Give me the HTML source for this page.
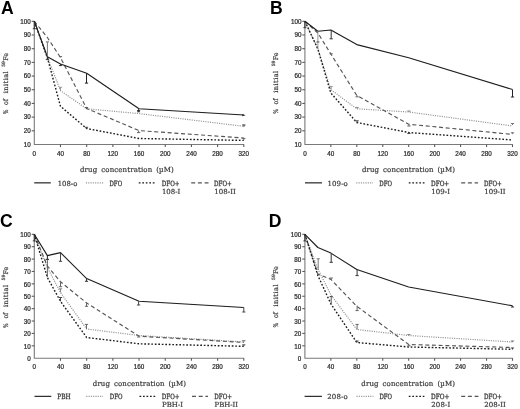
<!DOCTYPE html>
<html lang="en">
<head>
<meta charset="utf-8">
<title>Figure</title>
<style>
html,body{margin:0;padding:0;background:#fff;}
body{width:520px;height:409px;overflow:hidden;}
svg{display:block;}
</style>
</head>
<body>
<svg width="520" height="409" viewBox="0 0 520 409">
<defs><filter id="soft" x="0" y="0" width="100%" height="100%" filterUnits="userSpaceOnUse"><feGaussianBlur stdDeviation="0.35"/></filter></defs>
<rect width="520" height="409" fill="#ffffff"/>
<g filter="url(#soft)">
<text x="1.00" y="14.10" font-family="Liberation Sans, sans-serif" font-size="17.6" font-weight="bold" fill="#000">A</text>
<path d="M34.30 21.00 V144.50 H244.10" fill="none" stroke="#7a7a7a" stroke-width="1.1"/>
<text x="30.80" y="146.80" font-family="Liberation Sans, sans-serif" font-size="6.3" text-anchor="end" fill="#2a2a2a" stroke="#2a2a2a" stroke-width="0.22">10</text>
<path d="M31.70 130.81 h2.6" stroke="#5a5a5a" stroke-width="1.1"/>
<text x="30.80" y="133.11" font-family="Liberation Sans, sans-serif" font-size="6.3" text-anchor="end" fill="#2a2a2a" stroke="#2a2a2a" stroke-width="0.22">20</text>
<path d="M31.70 117.12 h2.6" stroke="#5a5a5a" stroke-width="1.1"/>
<text x="30.80" y="119.42" font-family="Liberation Sans, sans-serif" font-size="6.3" text-anchor="end" fill="#2a2a2a" stroke="#2a2a2a" stroke-width="0.22">30</text>
<path d="M31.70 103.43 h2.6" stroke="#5a5a5a" stroke-width="1.1"/>
<text x="30.80" y="105.73" font-family="Liberation Sans, sans-serif" font-size="6.3" text-anchor="end" fill="#2a2a2a" stroke="#2a2a2a" stroke-width="0.22">40</text>
<path d="M31.70 89.74 h2.6" stroke="#5a5a5a" stroke-width="1.1"/>
<text x="30.80" y="92.04" font-family="Liberation Sans, sans-serif" font-size="6.3" text-anchor="end" fill="#2a2a2a" stroke="#2a2a2a" stroke-width="0.22">50</text>
<path d="M31.70 76.06 h2.6" stroke="#5a5a5a" stroke-width="1.1"/>
<text x="30.80" y="78.36" font-family="Liberation Sans, sans-serif" font-size="6.3" text-anchor="end" fill="#2a2a2a" stroke="#2a2a2a" stroke-width="0.22">60</text>
<path d="M31.70 62.37 h2.6" stroke="#5a5a5a" stroke-width="1.1"/>
<text x="30.80" y="64.67" font-family="Liberation Sans, sans-serif" font-size="6.3" text-anchor="end" fill="#2a2a2a" stroke="#2a2a2a" stroke-width="0.22">70</text>
<path d="M31.70 48.68 h2.6" stroke="#5a5a5a" stroke-width="1.1"/>
<text x="30.80" y="50.98" font-family="Liberation Sans, sans-serif" font-size="6.3" text-anchor="end" fill="#2a2a2a" stroke="#2a2a2a" stroke-width="0.22">80</text>
<path d="M31.70 34.99 h2.6" stroke="#5a5a5a" stroke-width="1.1"/>
<text x="30.80" y="37.29" font-family="Liberation Sans, sans-serif" font-size="6.3" text-anchor="end" fill="#2a2a2a" stroke="#2a2a2a" stroke-width="0.22">90</text>
<path d="M31.70 21.30 h2.6" stroke="#5a5a5a" stroke-width="1.1"/>
<text x="30.80" y="23.60" font-family="Liberation Sans, sans-serif" font-size="6.3" text-anchor="end" fill="#2a2a2a" stroke="#2a2a2a" stroke-width="0.22">100</text>
<text x="34.30" y="155.50" font-family="Liberation Sans, sans-serif" font-size="6.3" text-anchor="middle" fill="#2a2a2a" stroke="#2a2a2a" stroke-width="0.22">0</text>
<path d="M60.49 144.50 v2.6" stroke="#5a5a5a" stroke-width="1.1"/>
<text x="60.49" y="155.50" font-family="Liberation Sans, sans-serif" font-size="6.3" text-anchor="middle" fill="#2a2a2a" stroke="#2a2a2a" stroke-width="0.22">40</text>
<path d="M86.67 144.50 v2.6" stroke="#5a5a5a" stroke-width="1.1"/>
<text x="86.67" y="155.50" font-family="Liberation Sans, sans-serif" font-size="6.3" text-anchor="middle" fill="#2a2a2a" stroke="#2a2a2a" stroke-width="0.22">80</text>
<path d="M112.86 144.50 v2.6" stroke="#5a5a5a" stroke-width="1.1"/>
<text x="112.86" y="155.50" font-family="Liberation Sans, sans-serif" font-size="6.3" text-anchor="middle" fill="#2a2a2a" stroke="#2a2a2a" stroke-width="0.22">120</text>
<path d="M139.05 144.50 v2.6" stroke="#5a5a5a" stroke-width="1.1"/>
<text x="139.05" y="155.50" font-family="Liberation Sans, sans-serif" font-size="6.3" text-anchor="middle" fill="#2a2a2a" stroke="#2a2a2a" stroke-width="0.22">160</text>
<path d="M165.24 144.50 v2.6" stroke="#5a5a5a" stroke-width="1.1"/>
<text x="165.24" y="155.50" font-family="Liberation Sans, sans-serif" font-size="6.3" text-anchor="middle" fill="#2a2a2a" stroke="#2a2a2a" stroke-width="0.22">200</text>
<path d="M191.43 144.50 v2.6" stroke="#5a5a5a" stroke-width="1.1"/>
<text x="191.43" y="155.50" font-family="Liberation Sans, sans-serif" font-size="6.3" text-anchor="middle" fill="#2a2a2a" stroke="#2a2a2a" stroke-width="0.22">240</text>
<path d="M217.61 144.50 v2.6" stroke="#5a5a5a" stroke-width="1.1"/>
<text x="217.61" y="155.50" font-family="Liberation Sans, sans-serif" font-size="6.3" text-anchor="middle" fill="#2a2a2a" stroke="#2a2a2a" stroke-width="0.22">280</text>
<path d="M243.80 144.50 v2.6" stroke="#5a5a5a" stroke-width="1.1"/>
<text x="243.80" y="155.50" font-family="Liberation Sans, sans-serif" font-size="6.3" text-anchor="middle" fill="#2a2a2a" stroke="#2a2a2a" stroke-width="0.22">320</text>
<g transform="translate(7.90 114.80) rotate(-90)" font-family="DejaVu Serif, Liberation Serif, serif" stroke="#4c4c4c" stroke-width="0.22" paint-order="stroke" fill="#3a3a3a"><text x="0.5" y="0" font-size="6.6" textLength="4.6" lengthAdjust="spacingAndGlyphs">%</text><text x="9.9" y="0" font-size="6.6" textLength="6.0" lengthAdjust="spacingAndGlyphs">of</text><text x="21.5" y="0" font-size="6.6" textLength="22.0" lengthAdjust="spacing">initial</text><text x="48.0" y="-2.9" font-size="4.4" textLength="5.8" lengthAdjust="spacingAndGlyphs">59</text><text x="54.0" y="0" font-size="6.6" textLength="7.8" lengthAdjust="spacingAndGlyphs">Fe</text></g>
<text x="80.00" y="171.90" font-family="DejaVu Serif, Liberation Serif, serif" stroke="#4c4c4c" stroke-width="0.22" paint-order="stroke" font-size="7.0" textLength="93.80" lengthAdjust="spacing" word-spacing="1.6" fill="#3a3a3a">drug concentration (µM)</text>
<polyline points="34.30,21.30 47.39,57.00 60.49,90.60 86.67,108.80 139.05,113.60 243.80,126.30" fill="none" stroke="#939393" stroke-width="1.2" stroke-linejoin="round" stroke-linecap="butt" stroke-dasharray="1.1 1.2"/>
<polyline points="34.30,21.30 47.39,37.50 60.49,57.50 86.67,108.50 139.05,130.60 243.80,138.00" fill="none" stroke="#555555" stroke-width="1.15" stroke-linejoin="round" stroke-linecap="butt" stroke-dasharray="4 2.7"/>
<polyline points="34.30,21.30 47.39,57.80 60.49,106.30 86.67,128.50 139.05,138.50 243.80,140.40" fill="none" stroke="#1c1c1c" stroke-width="1.4" stroke-linejoin="round" stroke-linecap="butt" stroke-dasharray="1.7 1.8"/>
<polyline points="34.30,21.30 47.39,56.70 60.49,63.90 86.67,73.20 139.05,108.80 243.80,115.00" fill="none" stroke="#1c1c1c" stroke-width="1.1" stroke-linejoin="round" stroke-linecap="butt"/>
<path d="M47.40 56.30 V41.90 M45.80 41.90 h3.2" fill="none" stroke="#777" stroke-width="1.0"/>
<path d="M47.40 57.00 V59.60 M45.80 59.60 h3.2" fill="none" stroke="#333" stroke-width="1.0"/>
<path d="M60.50 64.00 V65.60 M58.90 65.60 h3.2" fill="none" stroke="#333" stroke-width="1.0"/>
<path d="M60.50 90.00 V87.30 M58.90 87.30 h3.2" fill="none" stroke="#999" stroke-width="1.0"/>
<path d="M60.50 57.50 V56.60 M58.90 56.60 h3.2" fill="none" stroke="#666" stroke-width="1.0"/>
<path d="M86.50 73.30 V83.10 M84.90 83.10 h3.2" fill="none" stroke="#222" stroke-width="1.0"/>
<path d="M86.50 108.80 V107.60 M84.90 107.60 h3.2" fill="none" stroke="#555" stroke-width="1.0"/>
<path d="M86.50 128.50 V127.30 M84.90 127.30 h3.2" fill="none" stroke="#444" stroke-width="1.0"/>
<path d="M138.60 108.80 V110.60 M137.00 110.60 h3.2" fill="none" stroke="#333" stroke-width="1.0"/>
<path d="M138.60 130.60 V132.60 M137.00 132.60 h3.2" fill="none" stroke="#666" stroke-width="1.0"/>
<path d="M243.80 126.00 V124.80 M242.20 124.80 h3.2" fill="none" stroke="#777" stroke-width="1.0"/>
<path d="M243.80 140.00 V138.40 M242.20 138.40 h3.2" fill="none" stroke="#666" stroke-width="1.0"/>
<path d="M242.30 114.00 l3.2 1.3 l-3.2 0.9 z" fill="#222"/>
<path d="M242.20 124.80 h3.4 l-1.7 2.4 z" fill="#6a6a6a"/>
<path d="M136.90 112.20 h3.4 l-1.7 -2.4 z" fill="#333"/>
<path d="M34.30 21.30 V28.70 M32.80 28.70 h3.0" fill="none" stroke="#333" stroke-width="1.0"/>
<path d="M34.20 182.85 H50.80" stroke="#1c1c1c" stroke-width="1.15"/>
<text x="57.70" y="185.70" font-family="DejaVu Serif, Liberation Serif, serif" stroke="#4c4c4c" stroke-width="0.22" paint-order="stroke" font-size="7.0" textLength="19.60" lengthAdjust="spacingAndGlyphs" fill="#3a3a3a">108-o</text>
<path d="M85.90 182.85 H103.40" stroke="#939393" stroke-width="1.2" stroke-dasharray="1.1 1.2"/>
<text x="109.50" y="185.70" font-family="DejaVu Serif Condensed, DejaVu Serif, Liberation Serif, serif" font-size="7.2" stroke="#4c4c4c" stroke-width="0.3" paint-order="stroke" textLength="12.60" lengthAdjust="spacingAndGlyphs" fill="#3a3a3a">DFO</text>
<path d="M138.80 182.85 H155.00" stroke="#1c1c1c" stroke-width="1.4" stroke-dasharray="1.7 1.8"/>
<text x="161.70" y="185.70" font-family="DejaVu Serif Condensed, DejaVu Serif, Liberation Serif, serif" font-size="7.2" stroke="#4c4c4c" stroke-width="0.3" paint-order="stroke" textLength="17.90" lengthAdjust="spacingAndGlyphs" fill="#3a3a3a">DFO+</text>
<text x="161.90" y="193.70" font-family="DejaVu Serif, Liberation Serif, serif" stroke="#4c4c4c" stroke-width="0.22" paint-order="stroke" font-size="7.0" textLength="18.40" lengthAdjust="spacingAndGlyphs" fill="#3a3a3a">108-I</text>
<path d="M191.20 182.85 H208.50" stroke="#555555" stroke-width="1.15" stroke-dasharray="4 2.7"/>
<text x="214.10" y="185.70" font-family="DejaVu Serif Condensed, DejaVu Serif, Liberation Serif, serif" font-size="7.2" stroke="#4c4c4c" stroke-width="0.3" paint-order="stroke" textLength="17.70" lengthAdjust="spacingAndGlyphs" fill="#3a3a3a">DFO+</text>
<text x="214.30" y="193.70" font-family="DejaVu Serif, Liberation Serif, serif" stroke="#4c4c4c" stroke-width="0.22" paint-order="stroke" font-size="7.0" textLength="21.50" lengthAdjust="spacing" fill="#3a3a3a">108-II</text>
<text x="270.00" y="14.10" font-family="Liberation Sans, sans-serif" font-size="17.6" font-weight="bold" fill="#000">B</text>
<path d="M304.90 21.00 V144.50 H512.80" fill="none" stroke="#7a7a7a" stroke-width="1.1"/>
<text x="301.40" y="146.80" font-family="Liberation Sans, sans-serif" font-size="6.3" text-anchor="end" fill="#2a2a2a" stroke="#2a2a2a" stroke-width="0.22">10</text>
<path d="M302.30 130.81 h2.6" stroke="#5a5a5a" stroke-width="1.1"/>
<text x="301.40" y="133.11" font-family="Liberation Sans, sans-serif" font-size="6.3" text-anchor="end" fill="#2a2a2a" stroke="#2a2a2a" stroke-width="0.22">20</text>
<path d="M302.30 117.12 h2.6" stroke="#5a5a5a" stroke-width="1.1"/>
<text x="301.40" y="119.42" font-family="Liberation Sans, sans-serif" font-size="6.3" text-anchor="end" fill="#2a2a2a" stroke="#2a2a2a" stroke-width="0.22">30</text>
<path d="M302.30 103.43 h2.6" stroke="#5a5a5a" stroke-width="1.1"/>
<text x="301.40" y="105.73" font-family="Liberation Sans, sans-serif" font-size="6.3" text-anchor="end" fill="#2a2a2a" stroke="#2a2a2a" stroke-width="0.22">40</text>
<path d="M302.30 89.74 h2.6" stroke="#5a5a5a" stroke-width="1.1"/>
<text x="301.40" y="92.04" font-family="Liberation Sans, sans-serif" font-size="6.3" text-anchor="end" fill="#2a2a2a" stroke="#2a2a2a" stroke-width="0.22">50</text>
<path d="M302.30 76.06 h2.6" stroke="#5a5a5a" stroke-width="1.1"/>
<text x="301.40" y="78.36" font-family="Liberation Sans, sans-serif" font-size="6.3" text-anchor="end" fill="#2a2a2a" stroke="#2a2a2a" stroke-width="0.22">60</text>
<path d="M302.30 62.37 h2.6" stroke="#5a5a5a" stroke-width="1.1"/>
<text x="301.40" y="64.67" font-family="Liberation Sans, sans-serif" font-size="6.3" text-anchor="end" fill="#2a2a2a" stroke="#2a2a2a" stroke-width="0.22">70</text>
<path d="M302.30 48.68 h2.6" stroke="#5a5a5a" stroke-width="1.1"/>
<text x="301.40" y="50.98" font-family="Liberation Sans, sans-serif" font-size="6.3" text-anchor="end" fill="#2a2a2a" stroke="#2a2a2a" stroke-width="0.22">80</text>
<path d="M302.30 34.99 h2.6" stroke="#5a5a5a" stroke-width="1.1"/>
<text x="301.40" y="37.29" font-family="Liberation Sans, sans-serif" font-size="6.3" text-anchor="end" fill="#2a2a2a" stroke="#2a2a2a" stroke-width="0.22">90</text>
<path d="M302.30 21.30 h2.6" stroke="#5a5a5a" stroke-width="1.1"/>
<text x="301.40" y="23.60" font-family="Liberation Sans, sans-serif" font-size="6.3" text-anchor="end" fill="#2a2a2a" stroke="#2a2a2a" stroke-width="0.22">100</text>
<text x="304.90" y="155.50" font-family="Liberation Sans, sans-serif" font-size="6.3" text-anchor="middle" fill="#2a2a2a" stroke="#2a2a2a" stroke-width="0.22">0</text>
<path d="M330.85 144.50 v2.6" stroke="#5a5a5a" stroke-width="1.1"/>
<text x="330.85" y="155.50" font-family="Liberation Sans, sans-serif" font-size="6.3" text-anchor="middle" fill="#2a2a2a" stroke="#2a2a2a" stroke-width="0.22">40</text>
<path d="M356.80 144.50 v2.6" stroke="#5a5a5a" stroke-width="1.1"/>
<text x="356.80" y="155.50" font-family="Liberation Sans, sans-serif" font-size="6.3" text-anchor="middle" fill="#2a2a2a" stroke="#2a2a2a" stroke-width="0.22">80</text>
<path d="M382.75 144.50 v2.6" stroke="#5a5a5a" stroke-width="1.1"/>
<text x="382.75" y="155.50" font-family="Liberation Sans, sans-serif" font-size="6.3" text-anchor="middle" fill="#2a2a2a" stroke="#2a2a2a" stroke-width="0.22">120</text>
<path d="M408.70 144.50 v2.6" stroke="#5a5a5a" stroke-width="1.1"/>
<text x="408.70" y="155.50" font-family="Liberation Sans, sans-serif" font-size="6.3" text-anchor="middle" fill="#2a2a2a" stroke="#2a2a2a" stroke-width="0.22">160</text>
<path d="M434.65 144.50 v2.6" stroke="#5a5a5a" stroke-width="1.1"/>
<text x="434.65" y="155.50" font-family="Liberation Sans, sans-serif" font-size="6.3" text-anchor="middle" fill="#2a2a2a" stroke="#2a2a2a" stroke-width="0.22">200</text>
<path d="M460.60 144.50 v2.6" stroke="#5a5a5a" stroke-width="1.1"/>
<text x="460.60" y="155.50" font-family="Liberation Sans, sans-serif" font-size="6.3" text-anchor="middle" fill="#2a2a2a" stroke="#2a2a2a" stroke-width="0.22">240</text>
<path d="M486.55 144.50 v2.6" stroke="#5a5a5a" stroke-width="1.1"/>
<text x="486.55" y="155.50" font-family="Liberation Sans, sans-serif" font-size="6.3" text-anchor="middle" fill="#2a2a2a" stroke="#2a2a2a" stroke-width="0.22">280</text>
<path d="M512.50 144.50 v2.6" stroke="#5a5a5a" stroke-width="1.1"/>
<text x="512.50" y="155.50" font-family="Liberation Sans, sans-serif" font-size="6.3" text-anchor="middle" fill="#2a2a2a" stroke="#2a2a2a" stroke-width="0.22">320</text>
<g transform="translate(278.10 114.30) rotate(-90)" font-family="DejaVu Serif, Liberation Serif, serif" stroke="#4c4c4c" stroke-width="0.22" paint-order="stroke" fill="#3a3a3a"><text x="0.5" y="0" font-size="6.6" textLength="4.6" lengthAdjust="spacingAndGlyphs">%</text><text x="9.9" y="0" font-size="6.6" textLength="6.0" lengthAdjust="spacingAndGlyphs">of</text><text x="21.5" y="0" font-size="6.6" textLength="22.0" lengthAdjust="spacing">initial</text><text x="48.0" y="-2.9" font-size="4.4" textLength="5.8" lengthAdjust="spacingAndGlyphs">59</text><text x="54.0" y="0" font-size="6.6" textLength="7.8" lengthAdjust="spacingAndGlyphs">Fe</text></g>
<text x="362.00" y="171.90" font-family="DejaVu Serif, Liberation Serif, serif" stroke="#4c4c4c" stroke-width="0.22" paint-order="stroke" font-size="7.0" textLength="93.00" lengthAdjust="spacing" word-spacing="1.6" fill="#3a3a3a">drug concentration (µM)</text>
<polyline points="304.90,21.30 317.88,48.60 330.85,89.70 356.80,108.80 408.70,112.00 512.50,126.00" fill="none" stroke="#939393" stroke-width="1.2" stroke-linejoin="round" stroke-linecap="butt" stroke-dasharray="1.1 1.2"/>
<polyline points="304.90,21.30 317.88,33.00 330.85,54.00 356.80,95.50 408.70,124.20 512.50,134.40" fill="none" stroke="#555555" stroke-width="1.15" stroke-linejoin="round" stroke-linecap="butt" stroke-dasharray="4 2.7"/>
<polyline points="304.90,21.30 317.88,49.00 330.85,93.00 356.80,122.50 408.70,132.50 512.50,140.00" fill="none" stroke="#1c1c1c" stroke-width="1.4" stroke-linejoin="round" stroke-linecap="butt" stroke-dasharray="1.7 1.8"/>
<polyline points="304.90,21.30 317.88,31.30 330.85,30.00 356.80,44.60 408.70,57.80 512.50,89.50" fill="none" stroke="#1c1c1c" stroke-width="1.1" stroke-linejoin="round" stroke-linecap="butt"/>
<path d="M317.90 31.30 V48.50" fill="none" stroke="#8a8a8a" stroke-width="0.9"/>
<path d="M317.90 41.00 V42.00 M316.30 42.00 h3.2" fill="none" stroke="#666" stroke-width="1.0"/>
<path d="M331.20 30.00 V38.80 M329.60 38.80 h3.2" fill="none" stroke="#333" stroke-width="1.0"/>
<path d="M331.20 55.00 V53.80 M329.60 53.80 h3.2" fill="none" stroke="#666" stroke-width="1.0"/>
<path d="M331.20 89.70 V86.50 M329.60 86.50 h3.2" fill="none" stroke="#999" stroke-width="1.0"/>
<path d="M357.10 95.50 V96.80 M355.50 96.80 h3.2" fill="none" stroke="#666" stroke-width="1.0"/>
<path d="M357.10 108.80 V107.40 M355.50 107.40 h3.2" fill="none" stroke="#888" stroke-width="1.0"/>
<path d="M357.10 122.50 V120.80 M355.50 120.80 h3.2" fill="none" stroke="#444" stroke-width="1.0"/>
<path d="M408.90 112.00 V111.00 M407.30 111.00 h3.2" fill="none" stroke="#888" stroke-width="1.0"/>
<path d="M408.90 124.50 V126.00 M407.30 126.00 h3.2" fill="none" stroke="#666" stroke-width="1.0"/>
<path d="M408.90 132.50 V133.50 M407.30 133.50 h3.2" fill="none" stroke="#444" stroke-width="1.0"/>
<path d="M512.50 89.50 V97.00 M510.90 97.00 h3.2" fill="none" stroke="#222" stroke-width="1.0"/>
<path d="M512.50 125.00 V123.50 M510.90 123.50 h3.2" fill="none" stroke="#777" stroke-width="1.0"/>
<path d="M512.50 133.80 V132.80 M510.90 132.80 h3.2" fill="none" stroke="#666" stroke-width="1.0"/>
<path d="M304.90 21.30 V27.70 M303.40 27.70 h3.0" fill="none" stroke="#333" stroke-width="1.0"/>
<path d="M305.00 182.85 H322.00" stroke="#1c1c1c" stroke-width="1.15"/>
<text x="327.50" y="185.70" font-family="DejaVu Serif, Liberation Serif, serif" stroke="#4c4c4c" stroke-width="0.22" paint-order="stroke" font-size="7.0" textLength="20.30" lengthAdjust="spacing" fill="#3a3a3a">109-o</text>
<path d="M356.30 182.85 H373.00" stroke="#939393" stroke-width="1.2" stroke-dasharray="1.1 1.2"/>
<text x="379.30" y="185.70" font-family="DejaVu Serif Condensed, DejaVu Serif, Liberation Serif, serif" font-size="7.2" stroke="#4c4c4c" stroke-width="0.3" paint-order="stroke" textLength="12.70" lengthAdjust="spacingAndGlyphs" fill="#3a3a3a">DFO</text>
<path d="M408.80 182.85 H424.60" stroke="#1c1c1c" stroke-width="1.4" stroke-dasharray="1.7 1.8"/>
<text x="431.00" y="185.70" font-family="DejaVu Serif Condensed, DejaVu Serif, Liberation Serif, serif" font-size="7.2" stroke="#4c4c4c" stroke-width="0.3" paint-order="stroke" textLength="18.20" lengthAdjust="spacingAndGlyphs" fill="#3a3a3a">DFO+</text>
<text x="431.20" y="193.70" font-family="DejaVu Serif, Liberation Serif, serif" stroke="#4c4c4c" stroke-width="0.22" paint-order="stroke" font-size="7.0" textLength="18.80" lengthAdjust="spacing" fill="#3a3a3a">109-I</text>
<path d="M461.20 182.85 H478.00" stroke="#555555" stroke-width="1.15" stroke-dasharray="4 2.7"/>
<text x="484.10" y="185.70" font-family="DejaVu Serif Condensed, DejaVu Serif, Liberation Serif, serif" font-size="7.2" stroke="#4c4c4c" stroke-width="0.3" paint-order="stroke" textLength="17.70" lengthAdjust="spacingAndGlyphs" fill="#3a3a3a">DFO+</text>
<text x="484.30" y="193.70" font-family="DejaVu Serif, Liberation Serif, serif" stroke="#4c4c4c" stroke-width="0.22" paint-order="stroke" font-size="7.0" textLength="21.20" lengthAdjust="spacingAndGlyphs" fill="#3a3a3a">109-II</text>
<text x="0.10" y="227.00" font-family="Liberation Sans, sans-serif" font-size="17.6" font-weight="bold" fill="#000">C</text>
<path d="M34.30 234.00 V358.20 H244.10" fill="none" stroke="#7a7a7a" stroke-width="1.1"/>
<text x="30.80" y="361.00" font-family="Liberation Sans, sans-serif" font-size="6.3" text-anchor="end" fill="#2a2a2a" stroke="#2a2a2a" stroke-width="0.22">0</text>
<path d="M31.70 345.81 h2.6" stroke="#5a5a5a" stroke-width="1.1"/>
<text x="30.80" y="348.61" font-family="Liberation Sans, sans-serif" font-size="6.3" text-anchor="end" fill="#2a2a2a" stroke="#2a2a2a" stroke-width="0.22">10</text>
<path d="M31.70 333.42 h2.6" stroke="#5a5a5a" stroke-width="1.1"/>
<text x="30.80" y="336.22" font-family="Liberation Sans, sans-serif" font-size="6.3" text-anchor="end" fill="#2a2a2a" stroke="#2a2a2a" stroke-width="0.22">20</text>
<path d="M31.70 321.03 h2.6" stroke="#5a5a5a" stroke-width="1.1"/>
<text x="30.80" y="323.83" font-family="Liberation Sans, sans-serif" font-size="6.3" text-anchor="end" fill="#2a2a2a" stroke="#2a2a2a" stroke-width="0.22">30</text>
<path d="M31.70 308.64 h2.6" stroke="#5a5a5a" stroke-width="1.1"/>
<text x="30.80" y="311.44" font-family="Liberation Sans, sans-serif" font-size="6.3" text-anchor="end" fill="#2a2a2a" stroke="#2a2a2a" stroke-width="0.22">40</text>
<path d="M31.70 296.25 h2.6" stroke="#5a5a5a" stroke-width="1.1"/>
<text x="30.80" y="299.05" font-family="Liberation Sans, sans-serif" font-size="6.3" text-anchor="end" fill="#2a2a2a" stroke="#2a2a2a" stroke-width="0.22">50</text>
<path d="M31.70 283.86 h2.6" stroke="#5a5a5a" stroke-width="1.1"/>
<text x="30.80" y="286.66" font-family="Liberation Sans, sans-serif" font-size="6.3" text-anchor="end" fill="#2a2a2a" stroke="#2a2a2a" stroke-width="0.22">60</text>
<path d="M31.70 271.47 h2.6" stroke="#5a5a5a" stroke-width="1.1"/>
<text x="30.80" y="274.27" font-family="Liberation Sans, sans-serif" font-size="6.3" text-anchor="end" fill="#2a2a2a" stroke="#2a2a2a" stroke-width="0.22">70</text>
<path d="M31.70 259.08 h2.6" stroke="#5a5a5a" stroke-width="1.1"/>
<text x="30.80" y="261.88" font-family="Liberation Sans, sans-serif" font-size="6.3" text-anchor="end" fill="#2a2a2a" stroke="#2a2a2a" stroke-width="0.22">80</text>
<path d="M31.70 246.69 h2.6" stroke="#5a5a5a" stroke-width="1.1"/>
<text x="30.80" y="249.49" font-family="Liberation Sans, sans-serif" font-size="6.3" text-anchor="end" fill="#2a2a2a" stroke="#2a2a2a" stroke-width="0.22">90</text>
<path d="M31.70 234.30 h2.6" stroke="#5a5a5a" stroke-width="1.1"/>
<text x="30.80" y="237.10" font-family="Liberation Sans, sans-serif" font-size="6.3" text-anchor="end" fill="#2a2a2a" stroke="#2a2a2a" stroke-width="0.22">100</text>
<text x="34.30" y="368.90" font-family="Liberation Sans, sans-serif" font-size="6.3" text-anchor="middle" fill="#2a2a2a" stroke="#2a2a2a" stroke-width="0.22">0</text>
<path d="M60.49 358.20 v2.6" stroke="#5a5a5a" stroke-width="1.1"/>
<text x="60.49" y="368.90" font-family="Liberation Sans, sans-serif" font-size="6.3" text-anchor="middle" fill="#2a2a2a" stroke="#2a2a2a" stroke-width="0.22">40</text>
<path d="M86.67 358.20 v2.6" stroke="#5a5a5a" stroke-width="1.1"/>
<text x="86.67" y="368.90" font-family="Liberation Sans, sans-serif" font-size="6.3" text-anchor="middle" fill="#2a2a2a" stroke="#2a2a2a" stroke-width="0.22">80</text>
<path d="M112.86 358.20 v2.6" stroke="#5a5a5a" stroke-width="1.1"/>
<text x="112.86" y="368.90" font-family="Liberation Sans, sans-serif" font-size="6.3" text-anchor="middle" fill="#2a2a2a" stroke="#2a2a2a" stroke-width="0.22">120</text>
<path d="M139.05 358.20 v2.6" stroke="#5a5a5a" stroke-width="1.1"/>
<text x="139.05" y="368.90" font-family="Liberation Sans, sans-serif" font-size="6.3" text-anchor="middle" fill="#2a2a2a" stroke="#2a2a2a" stroke-width="0.22">160</text>
<path d="M165.24 358.20 v2.6" stroke="#5a5a5a" stroke-width="1.1"/>
<text x="165.24" y="368.90" font-family="Liberation Sans, sans-serif" font-size="6.3" text-anchor="middle" fill="#2a2a2a" stroke="#2a2a2a" stroke-width="0.22">200</text>
<path d="M191.43 358.20 v2.6" stroke="#5a5a5a" stroke-width="1.1"/>
<text x="191.43" y="368.90" font-family="Liberation Sans, sans-serif" font-size="6.3" text-anchor="middle" fill="#2a2a2a" stroke="#2a2a2a" stroke-width="0.22">240</text>
<path d="M217.61 358.20 v2.6" stroke="#5a5a5a" stroke-width="1.1"/>
<text x="217.61" y="368.90" font-family="Liberation Sans, sans-serif" font-size="6.3" text-anchor="middle" fill="#2a2a2a" stroke="#2a2a2a" stroke-width="0.22">280</text>
<path d="M243.80 358.20 v2.6" stroke="#5a5a5a" stroke-width="1.1"/>
<text x="243.80" y="368.90" font-family="Liberation Sans, sans-serif" font-size="6.3" text-anchor="middle" fill="#2a2a2a" stroke="#2a2a2a" stroke-width="0.22">320</text>
<g transform="translate(7.90 328.50) rotate(-90)" font-family="DejaVu Serif, Liberation Serif, serif" stroke="#4c4c4c" stroke-width="0.22" paint-order="stroke" fill="#3a3a3a"><text x="0.5" y="0" font-size="6.6" textLength="4.6" lengthAdjust="spacingAndGlyphs">%</text><text x="9.9" y="0" font-size="6.6" textLength="6.0" lengthAdjust="spacingAndGlyphs">of</text><text x="21.5" y="0" font-size="6.6" textLength="22.0" lengthAdjust="spacing">initial</text><text x="48.0" y="-2.9" font-size="4.4" textLength="5.8" lengthAdjust="spacingAndGlyphs">59</text><text x="54.0" y="0" font-size="6.6" textLength="7.8" lengthAdjust="spacingAndGlyphs">Fe</text></g>
<text x="92.80" y="385.60" font-family="DejaVu Serif, Liberation Serif, serif" stroke="#4c4c4c" stroke-width="0.22" paint-order="stroke" font-size="7.0" textLength="93.20" lengthAdjust="spacing" word-spacing="1.6" fill="#3a3a3a">drug concentration (µM)</text>
<polyline points="34.30,234.30 47.39,267.70 60.49,292.50 86.67,329.00 139.05,335.50 243.80,341.90" fill="none" stroke="#939393" stroke-width="1.2" stroke-linejoin="round" stroke-linecap="butt" stroke-dasharray="1.1 1.2"/>
<polyline points="34.30,234.30 47.39,266.00 60.49,281.80 86.67,303.00 139.05,336.20 243.80,342.50" fill="none" stroke="#555555" stroke-width="1.15" stroke-linejoin="round" stroke-linecap="butt" stroke-dasharray="4 2.7"/>
<polyline points="34.30,234.30 47.39,277.50 60.49,301.30 86.67,337.50 139.05,343.80 243.80,346.30" fill="none" stroke="#1c1c1c" stroke-width="1.4" stroke-linejoin="round" stroke-linecap="butt" stroke-dasharray="1.7 1.8"/>
<polyline points="34.30,234.30 47.39,255.60 60.49,252.60 86.67,278.60 139.05,301.30 243.80,307.50" fill="none" stroke="#1c1c1c" stroke-width="1.1" stroke-linejoin="round" stroke-linecap="butt"/>
<path d="M47.40 255.30 V259.40 M45.80 259.40 h3.2" fill="none" stroke="#222" stroke-width="1.0"/>
<path d="M47.40 259.40 V277.30" fill="none" stroke="#555" stroke-width="0.9"/>
<path d="M60.50 252.50 V261.30 M58.90 261.30 h3.2" fill="none" stroke="#444" stroke-width="1.0"/>
<path d="M60.50 281.50 V286.70 M58.90 286.70 h3.2" fill="none" stroke="#666" stroke-width="1.0"/>
<path d="M60.50 292.50 V288.80 M58.90 288.80 h3.2" fill="none" stroke="#888" stroke-width="1.0"/>
<path d="M60.50 301.30 V297.50 M58.90 297.50 h3.2" fill="none" stroke="#444" stroke-width="1.0"/>
<path d="M86.50 278.00 V281.30 M84.90 281.30 h3.2" fill="none" stroke="#333" stroke-width="1.0"/>
<path d="M86.50 302.50 V306.30 M84.90 306.30 h3.2" fill="none" stroke="#666" stroke-width="1.0"/>
<path d="M86.50 329.00 V324.40 M84.90 324.40 h3.2" fill="none" stroke="#666" stroke-width="1.0"/>
<path d="M138.60 301.30 V305.00 M137.00 305.00 h3.2" fill="none" stroke="#444" stroke-width="1.0"/>
<path d="M138.60 335.80 V337.00 M137.00 337.00 h3.2" fill="none" stroke="#777" stroke-width="1.0"/>
<path d="M243.80 307.50 V312.00 M242.20 312.00 h3.2" fill="none" stroke="#444" stroke-width="1.0"/>
<path d="M243.80 342.00 V340.60 M242.20 340.60 h3.2" fill="none" stroke="#777" stroke-width="1.0"/>
<path d="M243.80 346.30 V344.80 M242.20 344.80 h3.2" fill="none" stroke="#555" stroke-width="1.0"/>
<path d="M34.30 234.30 V240.90 M32.80 240.90 h3.0" fill="none" stroke="#333" stroke-width="1.0"/>
<path d="M34.50 396.35 H51.30" stroke="#1c1c1c" stroke-width="1.15"/>
<text x="57.30" y="399.20" font-family="DejaVu Serif Condensed, DejaVu Serif, Liberation Serif, serif" font-size="7.2" stroke="#4c4c4c" stroke-width="0.3" paint-order="stroke" textLength="13.40" lengthAdjust="spacingAndGlyphs" fill="#3a3a3a">PBH</text>
<path d="M86.30 396.35 H103.00" stroke="#939393" stroke-width="1.2" stroke-dasharray="1.1 1.2"/>
<text x="109.80" y="399.20" font-family="DejaVu Serif Condensed, DejaVu Serif, Liberation Serif, serif" font-size="7.2" stroke="#4c4c4c" stroke-width="0.3" paint-order="stroke" textLength="12.70" lengthAdjust="spacingAndGlyphs" fill="#3a3a3a">DFO</text>
<path d="M139.50 396.35 H155.50" stroke="#1c1c1c" stroke-width="1.4" stroke-dasharray="1.7 1.8"/>
<text x="161.80" y="399.20" font-family="DejaVu Serif Condensed, DejaVu Serif, Liberation Serif, serif" font-size="7.2" stroke="#4c4c4c" stroke-width="0.3" paint-order="stroke" textLength="17.80" lengthAdjust="spacingAndGlyphs" fill="#3a3a3a">DFO+</text>
<text x="162.00" y="407.20" font-family="DejaVu Serif, Liberation Serif, serif" stroke="#4c4c4c" stroke-width="0.22" paint-order="stroke" font-size="7.0" textLength="21.00" lengthAdjust="spacingAndGlyphs" fill="#3a3a3a">PBH-I</text>
<path d="M192.00 396.35 H208.00" stroke="#555555" stroke-width="1.15" stroke-dasharray="4 2.7"/>
<text x="214.30" y="399.20" font-family="DejaVu Serif Condensed, DejaVu Serif, Liberation Serif, serif" font-size="7.2" stroke="#4c4c4c" stroke-width="0.3" paint-order="stroke" textLength="17.70" lengthAdjust="spacingAndGlyphs" fill="#3a3a3a">DFO+</text>
<text x="214.50" y="407.20" font-family="DejaVu Serif, Liberation Serif, serif" stroke="#4c4c4c" stroke-width="0.22" paint-order="stroke" font-size="7.0" textLength="23.50" lengthAdjust="spacingAndGlyphs" fill="#3a3a3a">PBH-II</text>
<text x="268.70" y="227.10" font-family="Liberation Sans, sans-serif" font-size="17.6" font-weight="bold" fill="#000">D</text>
<path d="M304.90 234.00 V358.20 H512.80" fill="none" stroke="#7a7a7a" stroke-width="1.1"/>
<text x="301.20" y="361.00" font-family="Liberation Sans, sans-serif" font-size="6.3" text-anchor="end" fill="#2a2a2a" stroke="#2a2a2a" stroke-width="0.22">0</text>
<path d="M302.30 345.81 h2.6" stroke="#5a5a5a" stroke-width="1.1"/>
<text x="301.20" y="348.61" font-family="Liberation Sans, sans-serif" font-size="6.3" text-anchor="end" fill="#2a2a2a" stroke="#2a2a2a" stroke-width="0.22">10</text>
<path d="M302.30 333.42 h2.6" stroke="#5a5a5a" stroke-width="1.1"/>
<text x="301.20" y="336.22" font-family="Liberation Sans, sans-serif" font-size="6.3" text-anchor="end" fill="#2a2a2a" stroke="#2a2a2a" stroke-width="0.22">20</text>
<path d="M302.30 321.03 h2.6" stroke="#5a5a5a" stroke-width="1.1"/>
<text x="301.20" y="323.83" font-family="Liberation Sans, sans-serif" font-size="6.3" text-anchor="end" fill="#2a2a2a" stroke="#2a2a2a" stroke-width="0.22">30</text>
<path d="M302.30 308.64 h2.6" stroke="#5a5a5a" stroke-width="1.1"/>
<text x="301.20" y="311.44" font-family="Liberation Sans, sans-serif" font-size="6.3" text-anchor="end" fill="#2a2a2a" stroke="#2a2a2a" stroke-width="0.22">40</text>
<path d="M302.30 296.25 h2.6" stroke="#5a5a5a" stroke-width="1.1"/>
<text x="301.20" y="299.05" font-family="Liberation Sans, sans-serif" font-size="6.3" text-anchor="end" fill="#2a2a2a" stroke="#2a2a2a" stroke-width="0.22">50</text>
<path d="M302.30 283.86 h2.6" stroke="#5a5a5a" stroke-width="1.1"/>
<text x="301.20" y="286.66" font-family="Liberation Sans, sans-serif" font-size="6.3" text-anchor="end" fill="#2a2a2a" stroke="#2a2a2a" stroke-width="0.22">60</text>
<path d="M302.30 271.47 h2.6" stroke="#5a5a5a" stroke-width="1.1"/>
<text x="301.20" y="274.27" font-family="Liberation Sans, sans-serif" font-size="6.3" text-anchor="end" fill="#2a2a2a" stroke="#2a2a2a" stroke-width="0.22">70</text>
<path d="M302.30 259.08 h2.6" stroke="#5a5a5a" stroke-width="1.1"/>
<text x="301.20" y="261.88" font-family="Liberation Sans, sans-serif" font-size="6.3" text-anchor="end" fill="#2a2a2a" stroke="#2a2a2a" stroke-width="0.22">80</text>
<path d="M302.30 246.69 h2.6" stroke="#5a5a5a" stroke-width="1.1"/>
<text x="301.20" y="249.49" font-family="Liberation Sans, sans-serif" font-size="6.3" text-anchor="end" fill="#2a2a2a" stroke="#2a2a2a" stroke-width="0.22">90</text>
<path d="M302.30 234.30 h2.6" stroke="#5a5a5a" stroke-width="1.1"/>
<text x="301.20" y="237.10" font-family="Liberation Sans, sans-serif" font-size="6.3" text-anchor="end" fill="#2a2a2a" stroke="#2a2a2a" stroke-width="0.22">100</text>
<text x="304.90" y="368.90" font-family="Liberation Sans, sans-serif" font-size="6.3" text-anchor="middle" fill="#2a2a2a" stroke="#2a2a2a" stroke-width="0.22">0</text>
<path d="M330.85 358.20 v2.6" stroke="#5a5a5a" stroke-width="1.1"/>
<text x="330.85" y="368.90" font-family="Liberation Sans, sans-serif" font-size="6.3" text-anchor="middle" fill="#2a2a2a" stroke="#2a2a2a" stroke-width="0.22">40</text>
<path d="M356.80 358.20 v2.6" stroke="#5a5a5a" stroke-width="1.1"/>
<text x="356.80" y="368.90" font-family="Liberation Sans, sans-serif" font-size="6.3" text-anchor="middle" fill="#2a2a2a" stroke="#2a2a2a" stroke-width="0.22">80</text>
<path d="M382.75 358.20 v2.6" stroke="#5a5a5a" stroke-width="1.1"/>
<text x="382.75" y="368.90" font-family="Liberation Sans, sans-serif" font-size="6.3" text-anchor="middle" fill="#2a2a2a" stroke="#2a2a2a" stroke-width="0.22">120</text>
<path d="M408.70 358.20 v2.6" stroke="#5a5a5a" stroke-width="1.1"/>
<text x="408.70" y="368.90" font-family="Liberation Sans, sans-serif" font-size="6.3" text-anchor="middle" fill="#2a2a2a" stroke="#2a2a2a" stroke-width="0.22">160</text>
<path d="M434.65 358.20 v2.6" stroke="#5a5a5a" stroke-width="1.1"/>
<text x="434.65" y="368.90" font-family="Liberation Sans, sans-serif" font-size="6.3" text-anchor="middle" fill="#2a2a2a" stroke="#2a2a2a" stroke-width="0.22">200</text>
<path d="M460.60 358.20 v2.6" stroke="#5a5a5a" stroke-width="1.1"/>
<text x="460.60" y="368.90" font-family="Liberation Sans, sans-serif" font-size="6.3" text-anchor="middle" fill="#2a2a2a" stroke="#2a2a2a" stroke-width="0.22">240</text>
<path d="M486.55 358.20 v2.6" stroke="#5a5a5a" stroke-width="1.1"/>
<text x="486.55" y="368.90" font-family="Liberation Sans, sans-serif" font-size="6.3" text-anchor="middle" fill="#2a2a2a" stroke="#2a2a2a" stroke-width="0.22">280</text>
<path d="M512.50 358.20 v2.6" stroke="#5a5a5a" stroke-width="1.1"/>
<text x="512.50" y="368.90" font-family="Liberation Sans, sans-serif" font-size="6.3" text-anchor="middle" fill="#2a2a2a" stroke="#2a2a2a" stroke-width="0.22">320</text>
<g transform="translate(277.60 328.00) rotate(-90)" font-family="DejaVu Serif, Liberation Serif, serif" stroke="#4c4c4c" stroke-width="0.22" paint-order="stroke" fill="#3a3a3a"><text x="0.5" y="0" font-size="6.6" textLength="4.6" lengthAdjust="spacingAndGlyphs">%</text><text x="9.9" y="0" font-size="6.6" textLength="6.0" lengthAdjust="spacingAndGlyphs">of</text><text x="21.5" y="0" font-size="6.6" textLength="22.0" lengthAdjust="spacing">initial</text><text x="48.0" y="-2.9" font-size="4.4" textLength="5.8" lengthAdjust="spacingAndGlyphs">59</text><text x="54.0" y="0" font-size="6.6" textLength="7.8" lengthAdjust="spacingAndGlyphs">Fe</text></g>
<text x="361.30" y="385.60" font-family="DejaVu Serif, Liberation Serif, serif" stroke="#4c4c4c" stroke-width="0.22" paint-order="stroke" font-size="7.0" textLength="93.70" lengthAdjust="spacing" word-spacing="1.6" fill="#3a3a3a">drug concentration (µM)</text>
<polyline points="304.90,234.30 317.88,269.00 330.85,294.80 356.80,329.50 408.70,335.50 512.50,342.00" fill="none" stroke="#939393" stroke-width="1.2" stroke-linejoin="round" stroke-linecap="butt" stroke-dasharray="1.1 1.2"/>
<polyline points="304.90,234.30 317.88,274.00 330.85,279.40 356.80,306.30 408.70,344.50 512.50,347.50" fill="none" stroke="#555555" stroke-width="1.15" stroke-linejoin="round" stroke-linecap="butt" stroke-dasharray="4 2.7"/>
<polyline points="304.90,234.30 317.88,275.50 330.85,303.80 356.80,342.50 408.70,347.00 512.50,349.30" fill="none" stroke="#1c1c1c" stroke-width="1.4" stroke-linejoin="round" stroke-linecap="butt" stroke-dasharray="1.7 1.8"/>
<polyline points="304.90,234.30 317.88,247.50 330.85,253.10 356.80,269.50 408.70,287.00 512.50,305.80" fill="none" stroke="#1c1c1c" stroke-width="1.1" stroke-linejoin="round" stroke-linecap="butt"/>
<path d="M318.20 270.00 V258.80 M316.60 258.80 h3.2" fill="none" stroke="#777" stroke-width="1.0"/>
<path d="M331.20 253.10 V262.30 M329.60 262.30 h3.2" fill="none" stroke="#333" stroke-width="1.0"/>
<path d="M331.20 279.40 V278.00 M329.60 278.00 h3.2" fill="none" stroke="#666" stroke-width="1.0"/>
<path d="M331.20 303.80 V296.50 M329.60 296.50 h3.2" fill="none" stroke="#555" stroke-width="1.0"/>
<path d="M357.10 269.50 V275.60 M355.50 275.60 h3.2" fill="none" stroke="#333" stroke-width="1.0"/>
<path d="M357.10 305.60 V310.60 M355.50 310.60 h3.2" fill="none" stroke="#666" stroke-width="1.0"/>
<path d="M357.10 329.50 V324.40 M355.50 324.40 h3.2" fill="none" stroke="#666" stroke-width="1.0"/>
<path d="M357.10 342.50 V341.00 M355.50 341.00 h3.2" fill="none" stroke="#444" stroke-width="1.0"/>
<path d="M408.90 335.50 V334.50 M407.30 334.50 h3.2" fill="none" stroke="#888" stroke-width="1.0"/>
<path d="M408.90 344.50 V345.80 M407.30 345.80 h3.2" fill="none" stroke="#666" stroke-width="1.0"/>
<path d="M512.50 305.80 V307.00 M510.90 307.00 h3.2" fill="none" stroke="#333" stroke-width="1.0"/>
<path d="M512.50 342.00 V341.00 M510.90 341.00 h3.2" fill="none" stroke="#777" stroke-width="1.0"/>
<path d="M512.50 349.30 V348.00 M510.90 348.00 h3.2" fill="none" stroke="#444" stroke-width="1.0"/>
<path d="M304.90 234.30 V240.90 M303.40 240.90 h3.0" fill="none" stroke="#333" stroke-width="1.0"/>
<path d="M304.60 396.35 H321.90" stroke="#1c1c1c" stroke-width="1.15"/>
<text x="327.30" y="399.20" font-family="DejaVu Serif, Liberation Serif, serif" stroke="#4c4c4c" stroke-width="0.22" paint-order="stroke" font-size="7.0" textLength="20.40" lengthAdjust="spacing" fill="#3a3a3a">208-o</text>
<path d="M356.50 396.35 H373.40" stroke="#939393" stroke-width="1.2" stroke-dasharray="1.1 1.2"/>
<text x="379.40" y="399.20" font-family="DejaVu Serif Condensed, DejaVu Serif, Liberation Serif, serif" font-size="7.2" stroke="#4c4c4c" stroke-width="0.3" paint-order="stroke" textLength="12.60" lengthAdjust="spacingAndGlyphs" fill="#3a3a3a">DFO</text>
<path d="M408.80 396.35 H424.40" stroke="#1c1c1c" stroke-width="1.4" stroke-dasharray="1.7 1.8"/>
<text x="431.00" y="399.20" font-family="DejaVu Serif Condensed, DejaVu Serif, Liberation Serif, serif" font-size="7.2" stroke="#4c4c4c" stroke-width="0.3" paint-order="stroke" textLength="18.40" lengthAdjust="spacingAndGlyphs" fill="#3a3a3a">DFO+</text>
<text x="431.20" y="407.20" font-family="DejaVu Serif, Liberation Serif, serif" stroke="#4c4c4c" stroke-width="0.22" paint-order="stroke" font-size="7.0" textLength="19.10" lengthAdjust="spacing" fill="#3a3a3a">208-I</text>
<path d="M461.20 396.35 H478.40" stroke="#555555" stroke-width="1.15" stroke-dasharray="4 2.7"/>
<text x="484.10" y="399.20" font-family="DejaVu Serif Condensed, DejaVu Serif, Liberation Serif, serif" font-size="7.2" stroke="#4c4c4c" stroke-width="0.3" paint-order="stroke" textLength="17.70" lengthAdjust="spacingAndGlyphs" fill="#3a3a3a">DFO+</text>
<text x="484.30" y="407.20" font-family="DejaVu Serif, Liberation Serif, serif" stroke="#4c4c4c" stroke-width="0.22" paint-order="stroke" font-size="7.0" textLength="21.50" lengthAdjust="spacing" fill="#3a3a3a">208-II</text>
</g>
</svg>
</body>
</html>
